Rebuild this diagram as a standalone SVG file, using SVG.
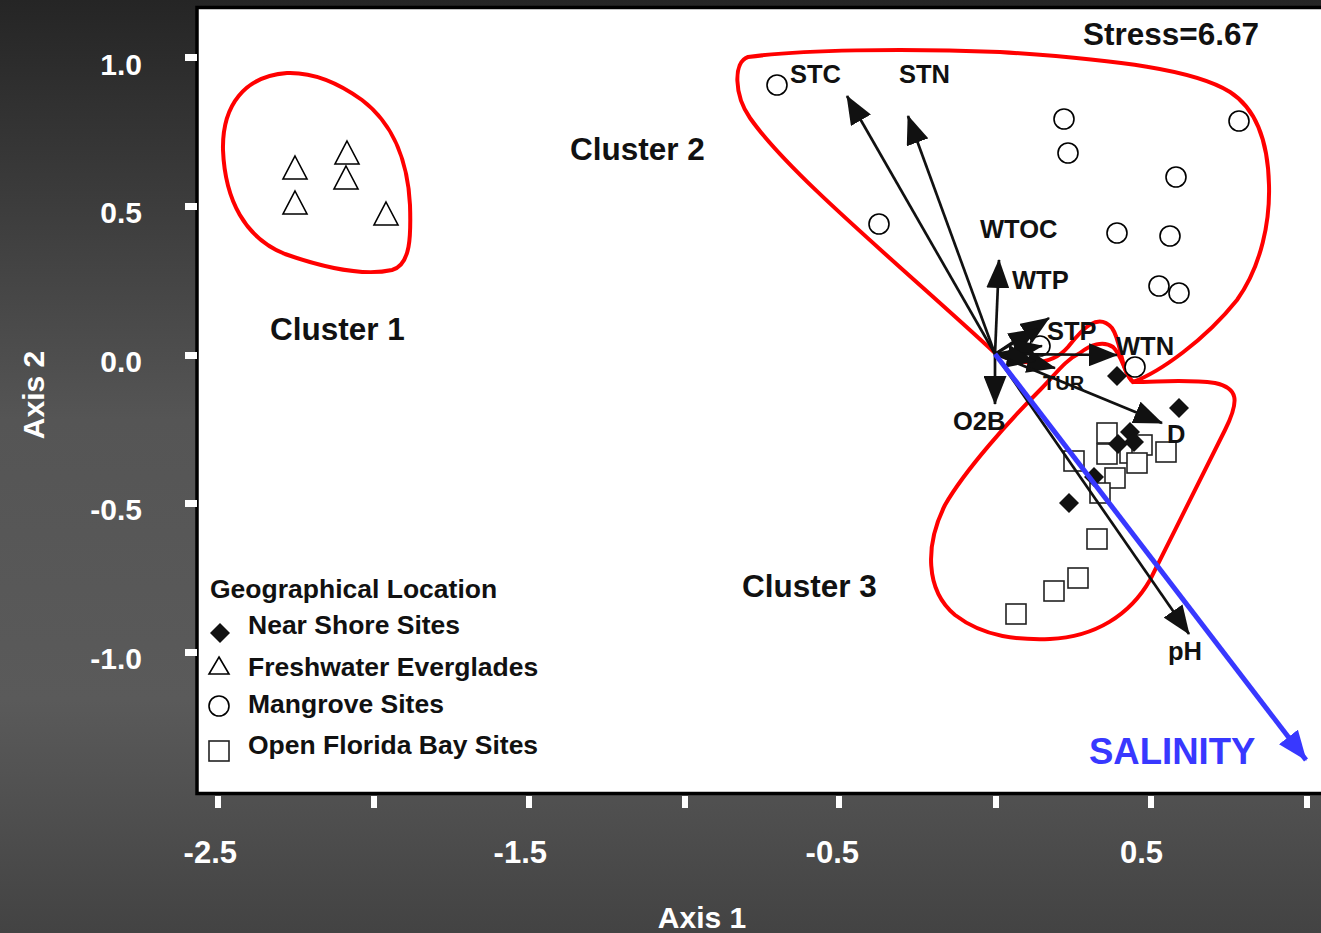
<svg xmlns="http://www.w3.org/2000/svg" width="1321" height="933" viewBox="0 0 1321 933">
<defs>
<linearGradient id="bg" x1="0" y1="0" x2="0" y2="1">
<stop offset="0" stop-color="#252525"/>
<stop offset="0.45" stop-color="#555555"/>
<stop offset="0.75" stop-color="#5a5a5a"/>
<stop offset="1" stop-color="#434343"/>
</linearGradient>
<marker id="ah" markerUnits="userSpaceOnUse" markerWidth="29" markerHeight="23" refX="28" refY="11.5" orient="auto">
<path d="M0,0 L29,11.5 L0,23 Z" fill="#111"/>
</marker>
<marker id="ahb" markerUnits="userSpaceOnUse" markerWidth="30" markerHeight="24" refX="29" refY="12" orient="auto">
<path d="M0,0 L30,12 L0,24 Z" fill="#3838ff"/>
</marker>
<style>
.t{font-family:"Liberation Sans",Arial,sans-serif;font-weight:bold;fill:#111}
.w{font-family:"Liberation Sans",Arial,sans-serif;font-weight:bold;fill:#ffffff}
.clu{fill:none;stroke:#ff0000;stroke-width:4}
.tri{fill:#fff;stroke:#000;stroke-width:1.6}
.cir{fill:#fff;stroke:#000;stroke-width:1.6}
.sq{fill:#fff;stroke:#222;stroke-width:1.6}
.dia{fill:#111}
.arr{stroke:#111;stroke-width:2.7;fill:none;marker-end:url(#ah)}
.tick{fill:#fff}
</style>
</defs>
<rect x="0" y="0" width="1321" height="933" fill="url(#bg)"/>
<g id="plot-frame">
<rect x="197" y="7.5" width="1140" height="786" fill="#fff" stroke="#000" stroke-width="3.5"/>
</g>
<g id="axes">
<rect class="tick" x="185" y="54" width="12" height="7"/>
<rect class="tick" x="185" y="203" width="12" height="7"/>
<rect class="tick" x="185" y="352" width="12" height="7"/>
<rect class="tick" x="185" y="500" width="12" height="7"/>
<rect class="tick" x="185" y="649" width="12" height="7"/>
<text class="w" x="142" y="75" font-size="30" text-anchor="end">1.0</text>
<text class="w" x="142" y="223" font-size="30" text-anchor="end">0.5</text>
<text class="w" x="142" y="372" font-size="30" text-anchor="end">0.0</text>
<text class="w" x="142" y="520" font-size="30" text-anchor="end">-0.5</text>
<text class="w" x="142" y="669" font-size="30" text-anchor="end">-1.0</text>
<rect class="tick" x="215" y="796" width="6" height="12"/>
<rect class="tick" x="371" y="796" width="6" height="12"/>
<rect class="tick" x="526" y="796" width="6" height="12"/>
<rect class="tick" x="682" y="796" width="6" height="12"/>
<rect class="tick" x="836" y="796" width="6" height="12"/>
<rect class="tick" x="993" y="796" width="6" height="12"/>
<rect class="tick" x="1148" y="796" width="6" height="12"/>
<rect class="tick" x="1304" y="796" width="6" height="12"/>
<text class="w" x="237" y="863" font-size="31" text-anchor="end">-2.5</text>
<text class="w" x="547" y="863" font-size="31" text-anchor="end">-1.5</text>
<text class="w" x="859" y="863" font-size="31" text-anchor="end">-0.5</text>
<text class="w" x="1163" y="863" font-size="31" text-anchor="end">0.5</text>
<text class="w" x="702" y="928" font-size="30" text-anchor="middle">Axis 1</text>
<text class="w" x="0" y="0" font-size="30" text-anchor="middle" transform="translate(44,395) rotate(-90)">Axis 2</text>
</g>
<g id="cluster1">
<path class="clu" d="M287,73 C245,76 222,105 223,150 C225,200 245,238 285,254 C325,268 365,276 392,270 C411,265 411,235 410,205 C408,165 395,125 362,100 C340,84 315,72 287,73 Z"/>
<text class="t" x="270" y="340" font-size="31.5">Cluster 1</text>
</g>
<g id="cluster2">
<path class="clu" d="M995,353 C1020,365 1050,368 1068,347 C1083,328 1098,312 1112,328 C1122,342 1120,370 1133,382 C1160,372 1205,340 1237,300 C1262,265 1270,220 1269,185 C1268,140 1255,108 1230,92 C1195,70 1120,60 1000,52 C900,48 800,50 748,57 C733,62 734,95 750,118 C790,175 900,265 995,353 Z"/>
<text class="t" x="570" y="160" font-size="31.5">Cluster 2</text>
</g>
<g id="cluster3">
<path class="clu" d="M1080,353 C1065,360 1055,375 1040,390 C1010,420 965,470 945,505 C925,545 925,590 955,615 C985,638 1020,640 1050,639 C1095,637 1130,615 1150,580 C1175,530 1205,470 1225,430 C1240,400 1238,388 1215,383 C1185,379 1160,382 1133,382 C1125,375 1122,355 1113,347 C1103,340 1090,345 1080,353 Z"/>
<text class="t" x="742" y="597" font-size="31.5">Cluster 3</text>
</g>
<g id="freshwater-sites">
<path class="tri" d="M295,156 L307,179 L283,179 Z"/>
<path class="tri" d="M295,191 L307,214 L283,214 Z"/>
<path class="tri" d="M347,141 L359,164 L335,164 Z"/>
<path class="tri" d="M346,166 L358,189 L334,189 Z"/>
<path class="tri" d="M386,202 L398,225 L374,225 Z"/>
</g>
<g id="mangrove-sites">
<circle class="cir" cx="777" cy="85" r="10"/>
<circle class="cir" cx="879" cy="224" r="10"/>
<circle class="cir" cx="1064" cy="119" r="10"/>
<circle class="cir" cx="1068" cy="153" r="10"/>
<circle class="cir" cx="1239" cy="121" r="10"/>
<circle class="cir" cx="1176" cy="177" r="10"/>
<circle class="cir" cx="1117" cy="233" r="10"/>
<circle class="cir" cx="1170" cy="236" r="10"/>
<circle class="cir" cx="1159" cy="286" r="10"/>
<circle class="cir" cx="1179" cy="293" r="10"/>
<circle class="cir" cx="1040" cy="346" r="10"/>
<circle class="cir" cx="1135" cy="367" r="10"/>
</g>
<g id="open-bay-sites">
<rect class="sq" x="1097" y="423" width="20" height="20"/>
<rect class="sq" x="1097" y="444" width="20" height="20"/>
<rect class="sq" x="1120" y="443" width="20" height="20"/>
<rect class="sq" x="1132" y="435" width="20" height="20"/>
<rect class="sq" x="1127" y="453" width="20" height="20"/>
<rect class="sq" x="1156" y="442" width="20" height="20"/>
<rect class="sq" x="1064" y="451" width="20" height="20"/>
<rect class="sq" x="1105" y="468" width="20" height="20"/>
<rect class="sq" x="1090" y="483" width="20" height="20"/>
<rect class="sq" x="1087" y="529" width="20" height="20"/>
<rect class="sq" x="1068" y="568" width="20" height="20"/>
<rect class="sq" x="1044" y="581" width="20" height="20"/>
<rect class="sq" x="1006" y="604" width="20" height="20"/>
</g>
<g id="near-shore-sites">
<path class="dia" d="M1117,366 L1127,376 L1117,386 L1107,376 Z"/>
<path class="dia" d="M1179,398 L1189,408 L1179,418 L1169,408 Z"/>
<path class="dia" d="M1130,422 L1140,432 L1130,442 L1120,432 Z"/>
<path class="dia" d="M1118,434 L1128,444 L1118,454 L1108,444 Z"/>
<path class="dia" d="M1134,432 L1144,442 L1134,452 L1124,442 Z"/>
<path class="dia" d="M1094,467 L1104,477 L1094,487 L1084,477 Z"/>
<path class="dia" d="M1069,493 L1079,503 L1069,513 L1059,503 Z"/>
</g>
<g id="connectors">
<line class="arr" x1="995" y1="354" x2="847" y2="96"/>
<line class="arr" x1="995" y1="354" x2="908" y2="116"/>
<line class="arr" x1="995" y1="354" x2="999" y2="260"/>
<line class="arr" x1="995" y1="354" x2="1049" y2="318"/>
<line class="arr" x1="995" y1="354" x2="1037" y2="329"/>
<line class="arr" x1="995" y1="354" x2="1042" y2="346"/>
<line class="arr" x1="995" y1="354" x2="1117" y2="355"/>
<line class="arr" x1="995" y1="354" x2="1055" y2="368"/>
<line class="arr" x1="995" y1="354" x2="1035" y2="361"/>
<line class="arr" x1="995" y1="354" x2="1162" y2="423"/>
<line class="arr" x1="995" y1="354" x2="995" y2="404"/>
<line class="arr" x1="995" y1="354" x2="1189" y2="634"/>
<line x1="995" y1="354" x2="1306" y2="760" stroke="#3838ff" stroke-width="5" marker-end="url(#ahb)"/>
</g>
<g id="vector-labels">
<text class="t" x="790" y="83" font-size="25.5">STC</text>
<text class="t" x="899" y="83" font-size="25.5">STN</text>
<text class="t" x="980" y="238" font-size="25.5">WTOC</text>
<text class="t" x="1012" y="289" font-size="25.5">WTP</text>
<text class="t" x="1047" y="340" font-size="25.5">STP</text>
<text class="t" x="1116" y="355" font-size="25.5">WTN</text>
<text class="t" x="1043" y="390" font-size="20">TUR</text>
<text class="t" x="953" y="430" font-size="25.5">O2B</text>
<text class="t" x="1167" y="443" font-size="25.5">D</text>
<text class="t" x="1168" y="660" font-size="25.5">pH</text>
<text x="1089" y="764" font-size="36.5" font-family="Liberation Sans, Arial, sans-serif" font-weight="bold" fill="#3838ff">SALINITY</text>
<text class="t" x="1083" y="45" font-size="31.5">Stress=6.67</text>
</g>
<g id="legend">
<text class="t" x="210" y="598" font-size="26.5">Geographical Location</text>
<path class="dia" d="M220,623 L230,633 L220,643 L210,633 Z"/>
<text class="t" x="248" y="634" font-size="26.5">Near Shore Sites</text>
<path class="tri" d="M219,657 L229,674 L209,674 Z"/>
<text class="t" x="248" y="676" font-size="26.5">Freshwater Everglades</text>
<circle class="cir" cx="219" cy="706" r="10"/>
<text class="t" x="248" y="713" font-size="26.5">Mangrove Sites</text>
<rect class="sq" x="209" y="741" width="20" height="20"/>
<text class="t" x="248" y="754" font-size="26.5">Open Florida Bay Sites</text>
</g>
</svg>
